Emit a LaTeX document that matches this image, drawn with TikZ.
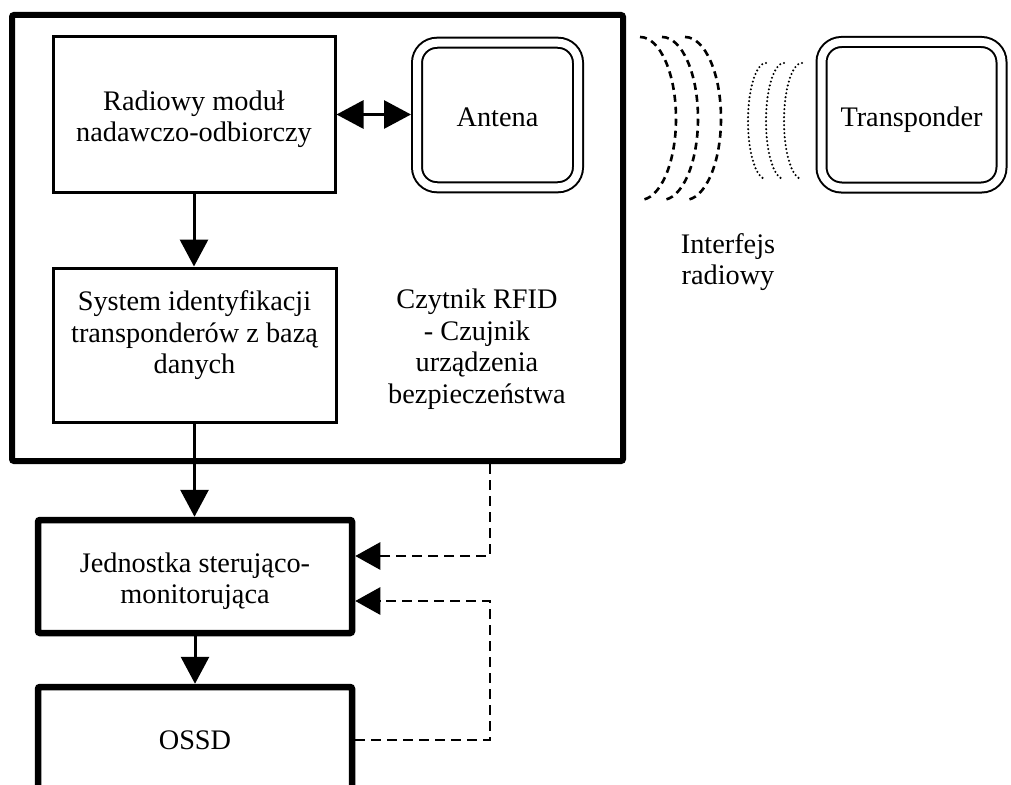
\documentclass[tikz,border=0pt]{standalone}
\usepackage{fontspec}
\setmainfont{Liberation Serif}
\usetikzlibrary{arrows.meta}

\begin{document}
\begin{tikzpicture}[x=1pt,y=-1pt]
	\tikzset{
		every node/.style={font=\fontsize{28.3}{31.5}\selectfont, align=center, inner sep=0pt},
		blok/.style={draw, line width=3pt},
		gruby/.style={draw, line width=6.5pt, rounded corners=2pt},
		podwojny/.style={draw, line width=2pt, double, double distance=8pt, rounded corners=20pt, outer sep=6pt},
		strz/.style={line width=3pt, -{Triangle[length=27pt,width=28pt]}},
		przer/.style={line width=2.8pt, dash pattern=on 10pt off 6pt, -{Triangle[length=25pt,width=27pt]}},
		fala/.style={line width=2.6pt, dash pattern=on 7pt off 5pt},
		kropki/.style={line width=2.3pt, dash pattern=on 0pt off 4pt, line cap=round}
	}
	\useasboundingbox (0,0) rectangle (1011,784);

	\node[gruby, line width=6pt, minimum width=611pt, minimum height=446pt] (czytnik) at (317.5,238) {};
	\node[blok, minimum width=282pt, minimum height=155pt, text height=61pt] (radio) at (194,114.5) {Radiowy moduł\\nadawczo-odbiorczy};
	\node[blok, minimum width=283pt, minimum height=154pt, text depth=25pt] (system) at (194.5,345) {System identyfikacji\\transponderów z bazą\\danych};
	\node[podwojny, minimum width=161pt, minimum height=144.5pt, text height=23pt] (antena) at (497.5,115) {Antena};
	\node[podwojny, minimum width=180pt, minimum height=145.5pt, text height=29pt] (transp) at (911.5,114.75) {Transponder};
	\node (czyt) at (477,349) {Czytnik RFID\\- Czujnik\\urządzenia\\bezpieczeństwa};
	\node (interf) at (728,262) {Interfejs\\radiowy};
	\node[gruby, minimum width=314pt, minimum height=113pt, text height=61pt] (jedn) at (195,576.5) {Jednostka sterująco-\\monitorująca};
	\node[gruby, minimum width=314pt, minimum height=106pt] (ossd) at (195,740) {OSSD};

	\draw[strz, {Triangle[length=27pt,width=28pt]}-{Triangle[length=27pt,width=28pt]}] (radio.east) -- (radio.east -| antena.west);
	\draw[strz] (radio.south) -- (radio.south |- system.north);
	\draw[strz] (system.south) -- (system.south |- jedn.north);
	\draw[strz] (jedn.south) -- (jedn.south |- ossd.north);

	\coordinate (wy) at ([xshift=172.5pt]czytnik.south);
	\coordinate (zw) at (490,601);
	\draw[przer] (wy) |- ([yshift=20.5pt]jedn.east);
	\draw[przer] (ossd.east) -| (zw) -- ([yshift=-24.5pt]jedn.east);

	\foreach \x in {640,662,685}
		\draw[fala] (\x,37) arc[start angle=90, end angle=-90, x radius=36pt, y radius=81.5pt];
	\foreach \x in {766,784,802}
		\draw[kropki] (\x,63) arc[start angle=90, end angle=270, x radius=18pt, y radius=58pt];
\end{tikzpicture}
\end{document}
